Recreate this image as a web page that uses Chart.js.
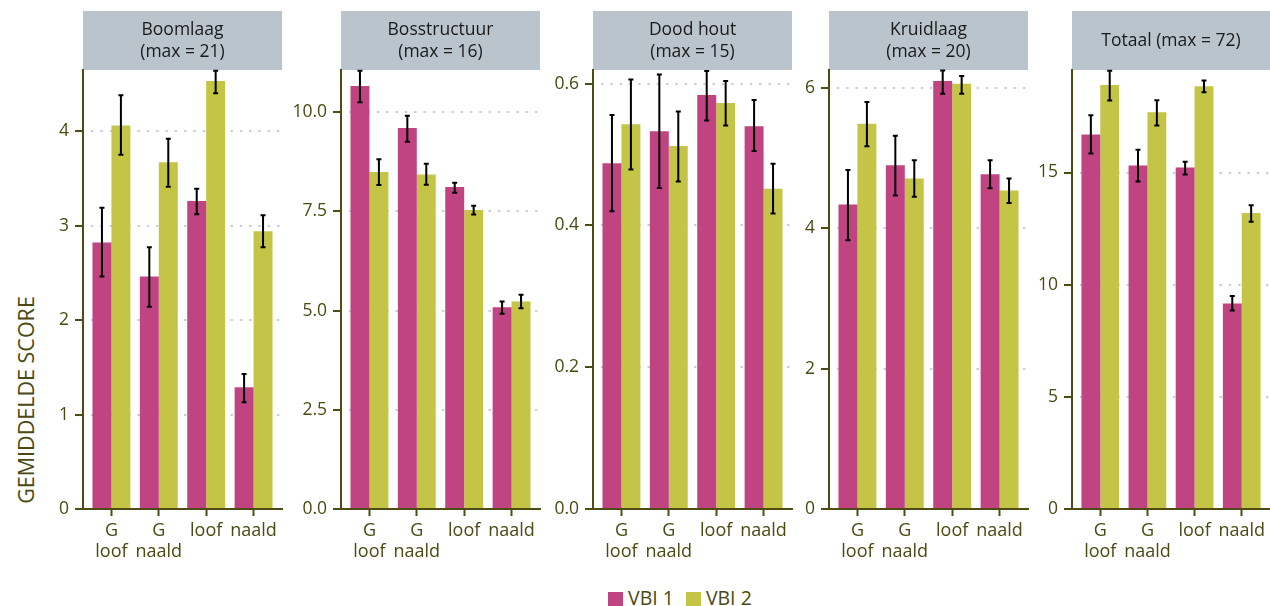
<!DOCTYPE html>
<html>
<head>
<meta charset="utf-8">
<script src="https://cdn.jsdelivr.net/npm/chart.js@4"></script>
<style>
  html, body { margin: 0; padding: 0; background: #ffffff; width: 1270px; height: 606px; overflow: hidden; }
  canvas.panel { position: absolute; top: 0; }
  #ytitle {
    position: absolute; left: 25px; top: 400px; width: 300px; margin-left: -150px;
    transform: translate(0, -50%) rotate(-90deg); transform-origin: 50% 50%;
    text-align: center; font: 21.5px "Open Sans", sans-serif; color: #4a4a12; white-space: nowrap;
  }
  #legend { position: absolute; top: 584px; left: 608px; font: 19.5px "Open Sans", sans-serif; color: #4a4a12; white-space: nowrap; }
  #legend span.item { display: inline-block; margin-right: 12px; }
  #legend span.sw { display: inline-block; width: 15px; height: 15px; vertical-align: -2px; margin-right: 5px; }
</style>
</head>
<body>
<div id="ytitle">GEMIDDELDE SCORE</div>
<div id="legend"></div>
<script>
// Bosstructuur groups and survey rounds
const categories = [['G', 'loof'], ['G', 'naald'], ['loof'], ['naald']];
const seriesNames = ['VBI 1', 'VBI 2'];

// Boomlaag
const boomlaagVbi1 = [2.82, 2.46, 3.26, 1.29];
const boomlaagVbi1Low = [2.46, 2.14, 3.12, 1.13];
const boomlaagVbi1High = [3.19, 2.77, 3.39, 1.43];
const boomlaagVbi2 = [4.06, 3.67, 4.53, 2.94];
const boomlaagVbi2Low = [3.75, 3.41, 4.40, 2.77];
const boomlaagVbi2High = [4.38, 3.92, 4.64, 3.11];
const boomlaagTicks = [0, 1, 2, 3, 4];
const boomlaagTickLabels = ['0', '1', '2', '3', '4'];

// Bosstructuur
const bosstructuurVbi1 = [10.66, 9.60, 8.11, 5.08];
const bosstructuurVbi1Low = [10.25, 9.25, 7.97, 4.92];
const bosstructuurVbi1High = [11.04, 9.91, 8.22, 5.23];
const bosstructuurVbi2 = [8.49, 8.43, 7.53, 5.23];
const bosstructuurVbi2Low = [8.16, 8.17, 7.42, 5.06];
const bosstructuurVbi2High = [8.81, 8.70, 7.64, 5.40];
const bosstructuurTicks = [0, 2.5, 5, 7.5, 10];
const bosstructuurTickLabels = ['0.0', '2.5', '5.0', '7.5', '10.0'];

// Dood hout
const doodHoutVbi1 = [0.488, 0.533, 0.584, 0.540];
const doodHoutVbi1Low = [0.420, 0.453, 0.548, 0.505];
const doodHoutVbi1High = [0.556, 0.613, 0.618, 0.577];
const doodHoutVbi2 = [0.543, 0.512, 0.573, 0.452];
const doodHoutVbi2Low = [0.479, 0.462, 0.541, 0.417];
const doodHoutVbi2High = [0.606, 0.561, 0.604, 0.487];
const doodHoutTicks = [0, 0.2, 0.4, 0.6];
const doodHoutTickLabels = ['0.0', '0.2', '0.4', '0.6'];

// Kruidlaag
const kruidlaagVbi1 = [4.34, 4.90, 6.10, 4.77];
const kruidlaagVbi1Low = [3.83, 4.47, 5.92, 4.57];
const kruidlaagVbi1High = [4.83, 5.32, 6.25, 4.97];
const kruidlaagVbi2 = [5.49, 4.71, 6.06, 4.54];
const kruidlaagVbi2Low = [5.17, 4.45, 5.92, 4.36];
const kruidlaagVbi2High = [5.80, 4.97, 6.17, 4.71];
const kruidlaagTicks = [0, 2, 4, 6];
const kruidlaagTickLabels = ['0', '2', '4', '6'];

// Totaal
const totaalVbi1 = [16.70, 15.31, 15.22, 9.16];
const totaalVbi1Low = [15.85, 14.60, 14.91, 8.85];
const totaalVbi1High = [17.55, 16.02, 15.48, 9.49];
const totaalVbi2 = [18.90, 17.69, 18.85, 13.19];
const totaalVbi2Low = [18.21, 17.10, 18.58, 12.81];
const totaalVbi2High = [19.54, 18.22, 19.10, 13.54];
const totaalTicks = [0, 5, 10, 15];
const totaalTickLabels = ['0', '5', '10', '15'];

const panelTitles = [
  ['Boomlaag', '(max = 21)'],
  ['Bosstructuur', '(max = 16)'],
  ['Dood hout', '(max = 15)'],
  ['Kruidlaag', '(max = 20)'],
  ['Totaal (max = 72)']
];
const axisMax = [4.647, 11.06, 0.6194, 6.257, 19.57];

// ---- styling ----
const COL_VBI1 = '#c04482';
const COL_VBI2 = '#c4c546';
const COL_AXIS = '#4d4c12';
const COL_TEXT = '#4a4a12';
const COL_STRIP = '#bac4cc';
const COL_GRID = '#c6ced6';
const FONT = '"Open Sans", sans-serif';

const panelLeft = [83, 341, 593, 829, 1072];
const panelWidth = [199, 199, 199, 199, 198];
const AXIS_W = 80;       // room left of each plot for y ticks and labels
const PLOT_TOP = 70;     // strip sits above this line
const PLOT_BOTTOM = 509;
const CANVAS_H = 570;

const panels = [
  { v1: boomlaagVbi1, v1l: boomlaagVbi1Low, v1h: boomlaagVbi1High, v2: boomlaagVbi2, v2l: boomlaagVbi2Low, v2h: boomlaagVbi2High, ticks: boomlaagTicks, labels: boomlaagTickLabels },
  { v1: bosstructuurVbi1, v1l: bosstructuurVbi1Low, v1h: bosstructuurVbi1High, v2: bosstructuurVbi2, v2l: bosstructuurVbi2Low, v2h: bosstructuurVbi2High, ticks: bosstructuurTicks, labels: bosstructuurTickLabels },
  { v1: doodHoutVbi1, v1l: doodHoutVbi1Low, v1h: doodHoutVbi1High, v2: doodHoutVbi2, v2l: doodHoutVbi2Low, v2h: doodHoutVbi2High, ticks: doodHoutTicks, labels: doodHoutTickLabels },
  { v1: kruidlaagVbi1, v1l: kruidlaagVbi1Low, v1h: kruidlaagVbi1High, v2: kruidlaagVbi2, v2l: kruidlaagVbi2Low, v2h: kruidlaagVbi2High, ticks: kruidlaagTicks, labels: kruidlaagTickLabels },
  { v1: totaalVbi1, v1l: totaalVbi1Low, v1h: totaalVbi1High, v2: totaalVbi2, v2l: totaalVbi2Low, v2h: totaalVbi2High, ticks: totaalTicks, labels: totaalTickLabels }
];

// grey facet strip above each plot
const stripPlugin = {
  id: 'strip',
  beforeDraw(chart, args, opts) {
    const { ctx, chartArea } = chart;
    ctx.save();
    ctx.fillStyle = COL_STRIP;
    ctx.fillRect(chartArea.left, 11, chartArea.right - chartArea.left, PLOT_TOP - 11);
    ctx.fillStyle = '#1a1a1a';
    ctx.font = '17.5px ' + FONT;
    ctx.textAlign = 'center';
    ctx.textBaseline = 'middle';
    const cx = (chartArea.left + chartArea.right) / 2;
    const lines = opts.lines || [];
    if (lines.length === 1) {
      ctx.fillText(lines[0], cx, 41);
    } else {
      ctx.fillText(lines[0], cx, 30);
      ctx.fillText(lines[1], cx, 52);
    }
    ctx.restore();
  }
};

// error bars from the low/high arrays, placed on each bar
const errorBarPlugin = {
  id: 'errorBars',
  afterDatasetsDraw(chart) {
    const { ctx } = chart;
    const yScale = chart.scales.y;
    ctx.save();
    ctx.strokeStyle = '#000000';
    ctx.lineWidth = 2;
    chart.data.datasets.forEach((ds, i) => {
      const meta = chart.getDatasetMeta(i);
      meta.data.forEach((bar, j) => {
        const x = bar.x;
        const yHi = yScale.getPixelForValue(ds.errHigh[j]);
        const yLo = yScale.getPixelForValue(ds.errLow[j]);
        ctx.beginPath();
        ctx.moveTo(x, yHi); ctx.lineTo(x, yLo);
        ctx.moveTo(x - 2.5, yHi); ctx.lineTo(x + 2.5, yHi);
        ctx.moveTo(x - 2.5, yLo); ctx.lineTo(x + 2.5, yLo);
        ctx.stroke();
      });
    });
    ctx.restore();
  }
};

panels.forEach((p, k) => {
  const canvas = document.createElement('canvas');
  canvas.className = 'panel';
  const w = AXIS_W + panelWidth[k] + 4;
  canvas.style.left = (panelLeft[k] - AXIS_W) + 'px';
  canvas.style.width = w + 'px';
  canvas.style.height = CANVAS_H + 'px';
  canvas.width = w;
  canvas.height = CANVAS_H;
  document.body.appendChild(canvas);

  const pts = arr => arr.map((v, i) => ({ x: i, y: v }));

  new Chart(canvas, {
    type: 'bar',
    data: {
      datasets: [
        { label: seriesNames[0], data: pts(p.v1), errLow: p.v1l, errHigh: p.v1h, backgroundColor: COL_VBI1 },
        { label: seriesNames[1], data: pts(p.v2), errLow: p.v2l, errHigh: p.v2h, backgroundColor: COL_VBI2 }
      ]
    },
    plugins: [stripPlugin, errorBarPlugin],
    options: {
      responsive: false,
      animation: false,
      devicePixelRatio: 1,
      categoryPercentage: 0.8,
      barPercentage: 1.0,
      layout: { padding: { top: PLOT_TOP, left: 0, right: 4, bottom: 0 } },
      plugins: {
        legend: { display: false },
        tooltip: { enabled: false },
        strip: { lines: panelTitles[k] }
      },
      scales: {
        x: {
          type: 'linear',
          offset: false,
          min: -0.6,
          max: 3.6,
          afterBuildTicks: s => { s.ticks = categories.map((c, i) => ({ value: i })); },
          afterFit: s => { s.height = CANVAS_H - PLOT_BOTTOM; },
          grid: { offset: false, drawOnChartArea: false, drawTicks: true, tickLength: 7, tickWidth: 2, tickColor: COL_AXIS },
          border: { display: true, color: COL_AXIS, width: 2 },
          ticks: {
            autoSkip: false, maxRotation: 0, padding: 4, color: COL_TEXT,
            font: { family: FONT, size: 18, lineHeight: 1.17 },
            callback: (v, i) => categories[i]
          }
        },
        y: {
          type: 'linear',
          min: 0,
          max: axisMax[k],
          afterBuildTicks: s => { s.ticks = p.ticks.map(v => ({ value: v })); },
          afterFit: s => { s.width = AXIS_W; },
          grid: {
            drawOnChartArea: true, drawTicks: true, tickLength: 8, tickWidth: 2, tickColor: COL_AXIS,
            lineWidth: 2,
            color: c => (c.tick && c.tick.value === 0) ? 'rgba(0,0,0,0)' : COL_GRID
          },
          border: { display: true, color: COL_AXIS, width: 2, dash: [2.4, 6.9], dashOffset: 2.3 },
          ticks: {
            padding: 6, color: COL_TEXT,
            font: { family: FONT, size: 17.5 },
            callback: (v, i) => p.labels[i]
          }
        }
      }
    }
  });
});

// legend
const legend = document.getElementById('legend');
[COL_VBI1, COL_VBI2].forEach((c, i) => {
  const item = document.createElement('span');
  item.className = 'item';
  const sw = document.createElement('span');
  sw.className = 'sw';
  sw.style.background = c;
  item.appendChild(sw);
  item.appendChild(document.createTextNode(seriesNames[i]));
  legend.appendChild(item);
});
</script>
</body>
</html>
